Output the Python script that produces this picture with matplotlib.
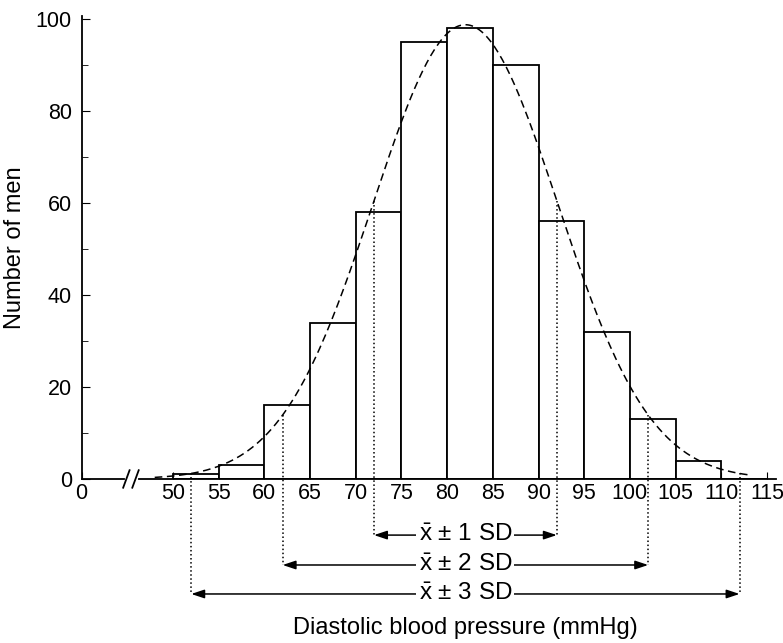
import numpy as np
import matplotlib
matplotlib.use("Agg")
import matplotlib.pyplot as plt

plt.rcParams['font.family'] = ['Liberation Sans', 'DejaVu Sans']
plt.rcParams['mathtext.fontset'] = 'custom'
plt.rcParams['mathtext.rm'] = 'Liberation Sans'
plt.rcParams['mathtext.it'] = 'Liberation Sans'

# Data: diastolic blood pressure of men, 5 mmHg classes
bin_left = [50, 55, 60, 65, 70, 75, 80, 85, 90, 95, 100, 105, 110]
counts = [1, 3, 16, 34, 58, 95, 98, 90, 56, 32, 13, 4, 0]
bin_width = 5
mean_dbp = 82
sd_dbp = 10
curve_sd = 10.1  # width of the fitted curve as drawn
tick_values = [50, 55, 60, 65, 70, 75, 80, 85, 90, 95, 100, 105, 110, 115]
sd_labels = ["$\\bar{\\mathrm{x}}$ \u00b1 1 SD",
             "$\\bar{\\mathrm{x}}$ \u00b1 2 SD",
             "$\\bar{\\mathrm{x}}$ \u00b1 3 SD"]

# the axis is broken: "0" is drawn at this position
zero_pos = 40


def normal_height(x):
    n = sum(counts)
    return n * bin_width * np.exp(-0.5 * ((x - mean_dbp) / curve_sd) ** 2) / (curve_sd * np.sqrt(2 * np.pi))


fig = plt.figure(figsize=(7.83, 6.43), dpi=100)
ax = fig.add_axes([0.1042, 0.2551, 0.887, 0.7197])

# histogram
ax.bar(bin_left, counts, width=bin_width, align='edge', color='white',
       edgecolor='black', linewidth=1.3, zorder=2)

# fitted normal curve
xs = np.linspace(48, 113, 300)
ax.plot(xs, normal_height(xs), color='black', linestyle=(0, (5, 3)), linewidth=1.1, zorder=3)

# SD ranges below the axis
row_y = [-12.2, -18.7, -25.0]
for k, (y, lab) in enumerate(zip(row_y, sd_labels), start=1):
    for side in (-1, 1):
        xk = mean_dbp + side * k * sd_dbp
        ax.plot([xk, xk], [normal_height(xk), y], linestyle=':', color='black',
                linewidth=1.1, clip_on=False, zorder=3)
        ax.annotate('', xy=(xk, y), xytext=(mean_dbp, y), annotation_clip=False,
                    arrowprops=dict(arrowstyle='-|>,head_length=0.6,head_width=0.2',
                                    color='black', lw=1.1,
                                    mutation_scale=13, shrinkA=0, shrinkB=0))
    ax.text(mean_dbp, y, lab, ha='center', va='center', fontsize=17.5, zorder=5,
            bbox=dict(facecolor='white', edgecolor='none', pad=1.5))

ax.text(mean_dbp, -32.4, 'Diastolic blood pressure (mmHg)', ha='center', va='center',
        fontsize=17, clip_on=False)

# axes
ax.set_xlim(zero_pos, 116)
ax.set_ylim(0, 100.6)
ax.spines[['top', 'right', 'bottom']].set_visible(False)
ax.spines['left'].set_linewidth(1.3)

# bottom axis line with a break
ax.plot([zero_pos, 44.6], [0, 0], color='black', lw=1.3, clip_on=False)
ax.plot([46.3, 116], [0, 0], color='black', lw=1.3, clip_on=False)
for bx in (44.9, 45.9):
    ax.plot([bx - 0.35, bx + 0.35], [-1.9, 1.9], color='black', lw=1.3, clip_on=False)

ax.set_xticks([zero_pos] + tick_values)
ax.set_xticklabels(['0'] + [str(v) for v in tick_values])
ax.set_yticks(range(0, 101, 20))
ax.set_yticks(range(10, 100, 20), minor=True)
ax.tick_params(axis='x', direction='in', length=5, labelsize=15.5, pad=3)
ax.tick_params(axis='y', which='major', direction='in', length=6, labelsize=15.5, pad=7)
ax.tick_params(axis='y', which='minor', direction='in', length=4)
ax.set_ylabel('Number of men', fontsize=17, labelpad=7)

fig.savefig('out.png', dpi=100)
